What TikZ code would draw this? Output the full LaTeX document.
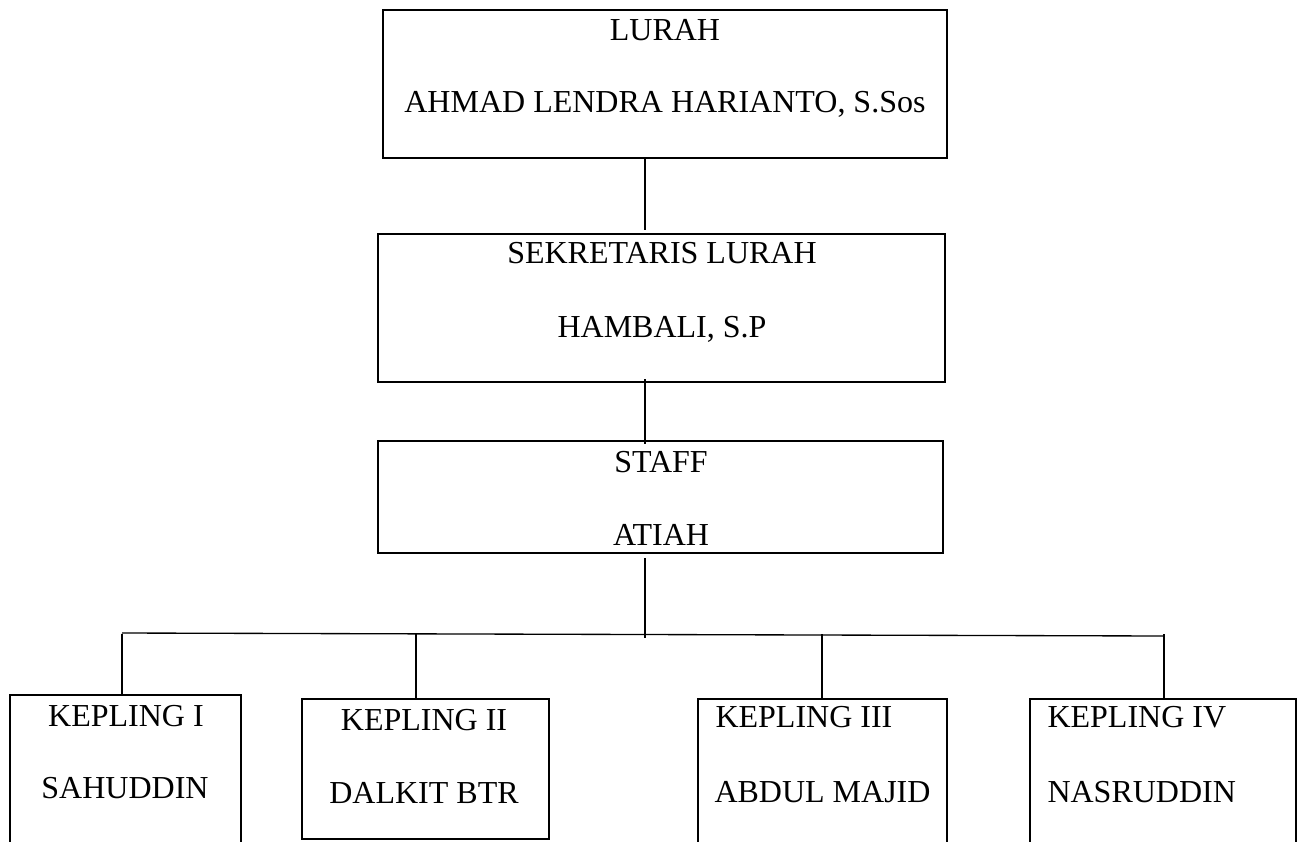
\documentclass[tikz,border=0pt]{standalone}
\usepackage{fontspec}
\setmainfont{Liberation Serif}
\usetikzlibrary{calc}
\tikzstyle{orgbox}=[draw=black, line width=1pt, rectangle, anchor=north west, inner sep=0pt, outer sep=0pt]
\tikzstyle{orgtext}=[anchor=base, inner sep=0pt, font=\fontsize{12}{14}\selectfont]
\tikzstyle{orgtextl}=[orgtext, anchor=base west]
\tikzstyle{orgedge}=[line width=0.5pt, black]

\begin{document}
\begin{tikzpicture}[x=0.375pt, y=-0.375pt]
\def\u{0.375pt}
\def\busy{634}

    \clip (0,0) rectangle (1302,841);

    \path node[orgbox, minimum width=564*\u, minimum height=148*\u] (lurah) at (383,10) {};
    \path node[orgtext] (lurah-a) at (665,40) {LURAH};
    \path node[orgtext] (lurah-b) at (665,112) {AHMAD LENDRA HARIANTO, S.Sos};

    \path node[orgbox, minimum width=567*\u, minimum height=148*\u] (sekretaris) at (378,234) {};
    \path node[orgtext] (sekretaris-a) at (662,263) {SEKRETARIS LURAH};
    \path node[orgtext] (sekretaris-b) at (662,337) {HAMBALI, S.P};

    \path node[orgbox, minimum width=565*\u, minimum height=112*\u] (staff) at (378,441) {};
    \path node[orgtext] (staff-a) at (661,472) {STAFF};
    \path node[orgtext] (staff-b) at (661,545) {ATIAH};

    \foreach \i / \x / \y / \w / \h in {1/10/695/231/160, 2/302/699/247/140, 3/698/699/249/160, 4/1030/699/266/160}
        \path node[orgbox, minimum width=\w*\u, minimum height=\h*\u] (kepling-\i) at (\x,\y) {};

    \path node[orgtext] (kepling-1-a) at (126,726) {KEPLING I};
    \path node[orgtext] (kepling-1-b) at (125,798) {SAHUDDIN};
    \path node[orgtext] (kepling-2-a) at (424,730) {KEPLING II};
    \path node[orgtext] (kepling-2-b) at (424,803) {DALKIT BTR};
    \path node[orgtextl] (kepling-3-a) at (715,727) {KEPLING III};
    \path node[orgtextl] (kepling-3-b) at (714,802) {ABDUL MAJID};
    \path node[orgtextl] (kepling-4-a) at (1047,727) {KEPLING IV};
    \path node[orgtextl] (kepling-4-b) at (1047,802) {NASRUDDIN};

    % trunk and bus
    \coordinate (trunk) at (645,\busy);
    \coordinate (trunk-end) at (645,638);
    \coordinate (busL) at (122,633);
    \coordinate (busR) at (1164,636);

    \draw[orgedge] (lurah.south -| trunk) -- ([yshift=1.5pt]sekretaris.north -| trunk);
    \draw[orgedge] ([yshift=1pt]sekretaris.south -| trunk) -- ([yshift=-1pt]staff.north -| trunk);
    \draw[orgedge] ([yshift=-2pt]staff.south -| trunk) -- (trunk-end);
    \draw[orgedge] (busL) -- (busR);

    \foreach \i / \x in {1/122, 2/416, 3/822, 4/1164} {
        \coordinate (drop-\i) at (\x,\busy);
        \draw[orgedge] (drop-\i) -- (kepling-\i.north -| drop-\i);
    }
\end{tikzpicture}
\end{document}
